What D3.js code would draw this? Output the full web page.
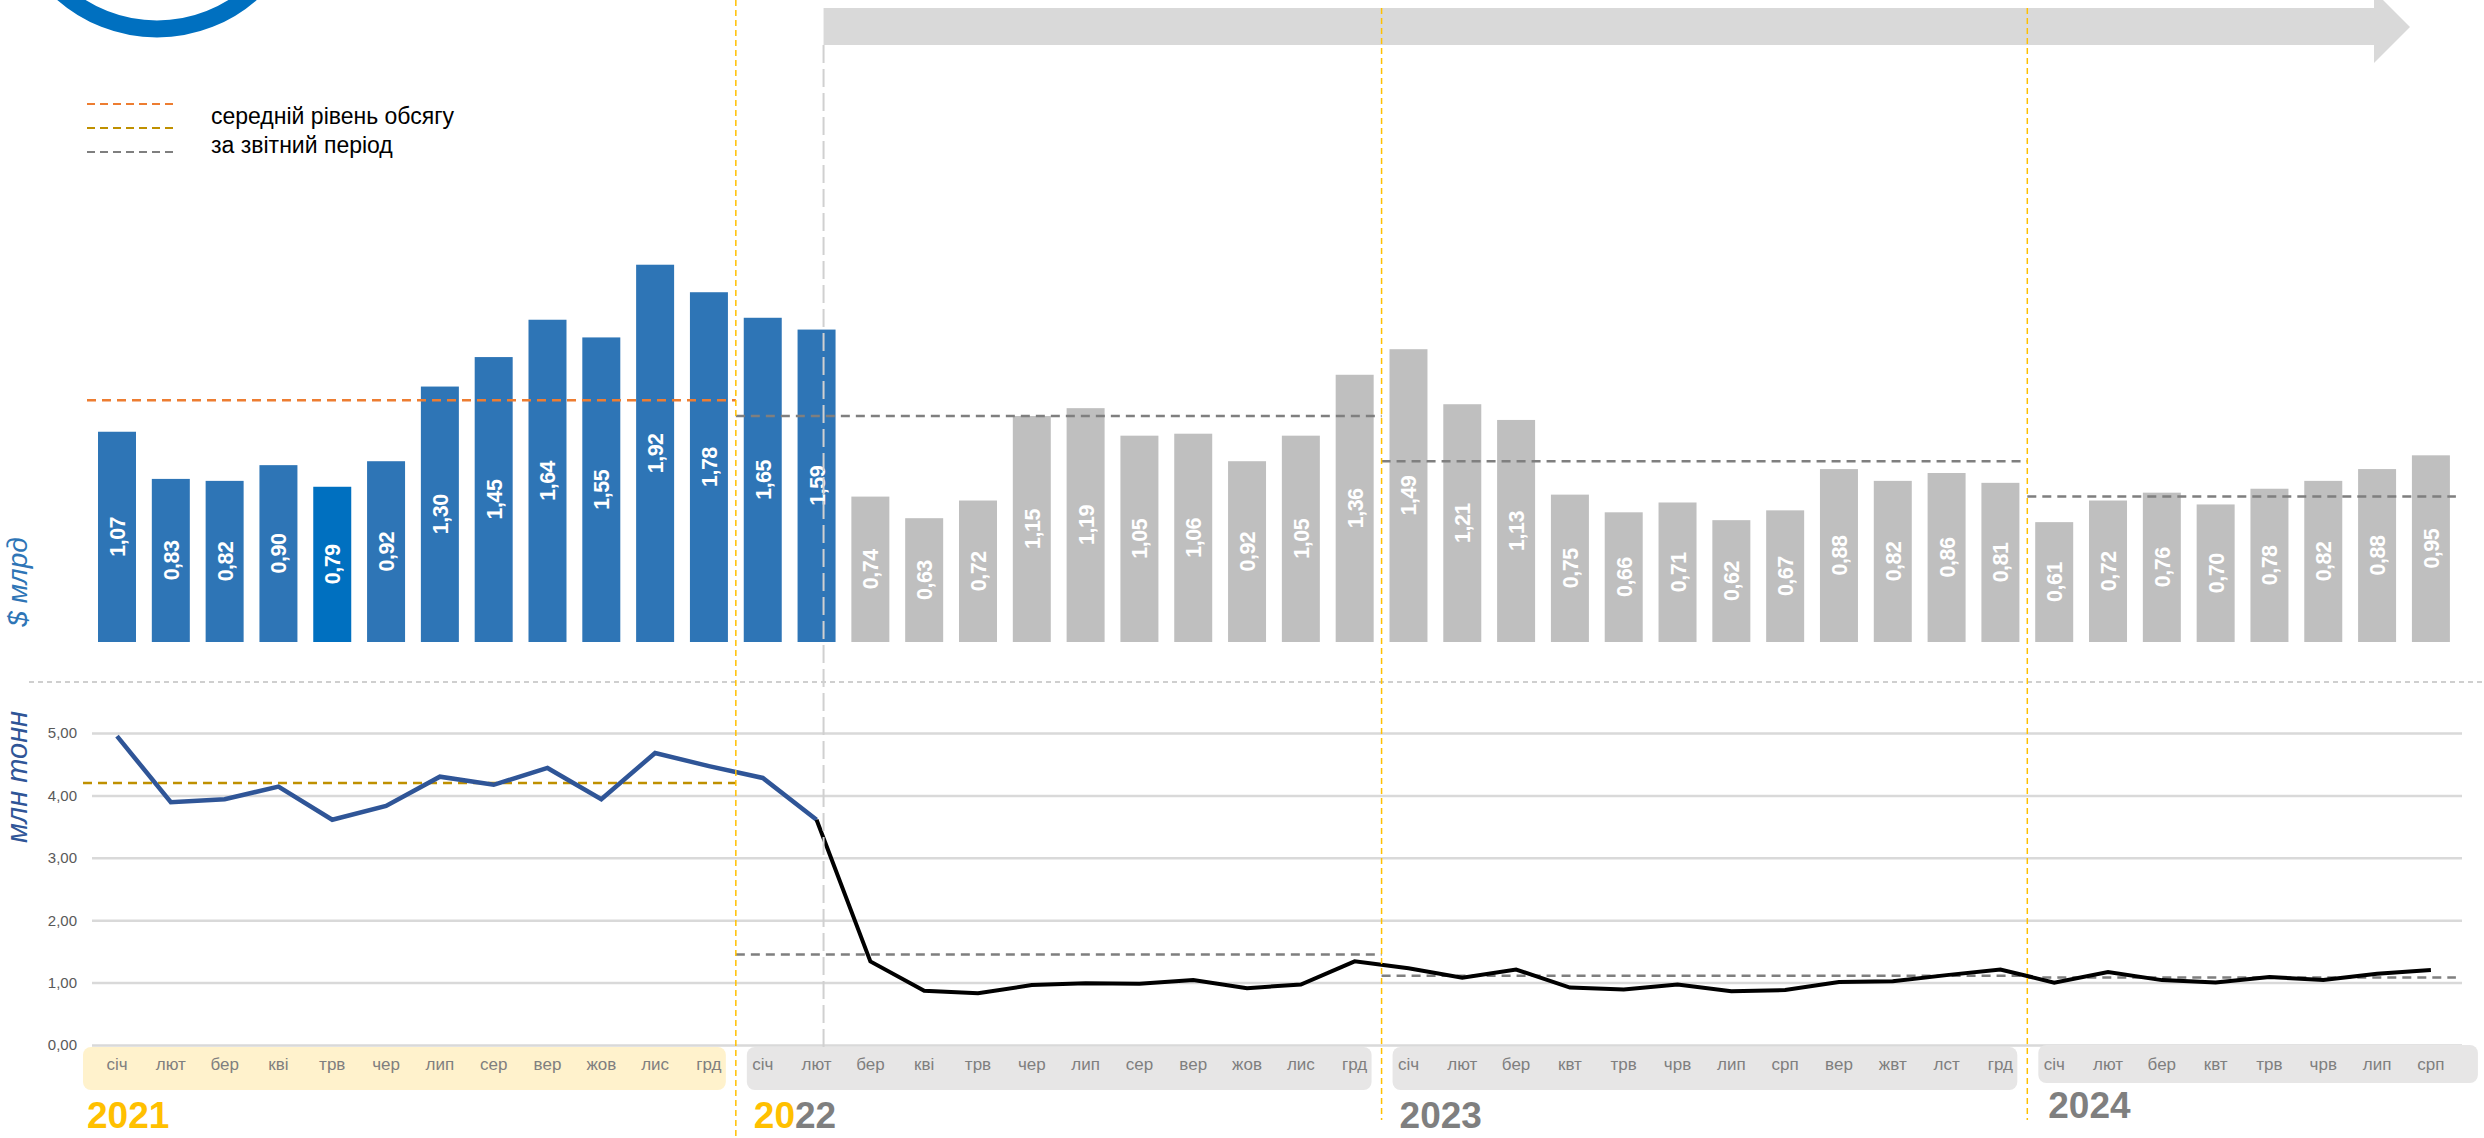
<!DOCTYPE html>
<html lang="uk">
<head>
<meta charset="UTF-8">
<title>Експорт: вартість і обсяг</title>
<script src="https://d3js.org/d3.v7.min.js"></script>
<style>
  html, body { margin: 0; padding: 0; background: #fff; }
  svg { display: block; font-family: "Liberation Sans", Arial, sans-serif; }
  .grid .domain, .months .domain { display: none; }
  .grid .tick line { stroke: #d9d9d9; stroke-width: 2.5; }
  .grid .tick text { fill: #595959; font-size: 15px; }
  .months .tick text { fill: #7f7f7f; font-size: 17px; }
</style>
</head>
<body>
<svg id="chart" width="2484" height="1138"></svg>
<script>
// --- дані ---
const years = ["2021", "2022", "2023", "2024"];
const months2021 = ["січ", "лют", "бер", "кві", "трв", "чер", "лип", "сер", "вер", "жов", "лис", "грд"];
const months2022 = ["січ", "лют", "бер", "кві", "трв", "чер", "лип", "сер", "вер", "жов", "лис", "грд"];
const months2023 = ["січ", "лют", "бер", "квт", "трв", "чрв", "лип", "срп", "вер", "жвт", "лст", "грд"];
const months2024 = ["січ", "лют", "бер", "квт", "трв", "чрв", "лип", "срп"];

// вартість, $ млрд
const value2021 = [1.07, 0.83, 0.82, 0.90, 0.79, 0.92, 1.30, 1.45, 1.64, 1.55, 1.92, 1.78];
const value2022 = [1.65, 1.59, 0.74, 0.63, 0.72, 1.15, 1.19, 1.05, 1.06, 0.92, 1.05, 1.36];
const value2023 = [1.49, 1.21, 1.13, 0.75, 0.66, 0.71, 0.62, 0.67, 0.88, 0.82, 0.86, 0.81];
const value2024 = [0.61, 0.72, 0.76, 0.70, 0.78, 0.82, 0.88, 0.95];

// обсяг, млн тонн
const volume2021 = [4.95, 3.89, 3.94, 4.14, 3.61, 3.83, 4.30, 4.17, 4.44, 3.94, 4.68, 4.47];
const volume2022 = [4.28, 3.61, 1.34, 0.87, 0.83, 0.96, 0.99, 0.98, 1.04, 0.91, 0.97, 1.34];
const volume2023 = [1.23, 1.08, 1.21, 0.92, 0.89, 0.97, 0.86, 0.88, 1.01, 1.02, 1.12, 1.21];
const volume2024 = [1.00, 1.17, 1.04, 1.00, 1.09, 1.04, 1.14, 1.20];

// середній рівень за звітний період
const valueAvg = [1.23, 1.15, 0.92, 0.74];
const volumeAvg = [4.20, 1.45, 1.11, 1.08];

const volumeTicks = [0, 1, 2, 3, 4, 5];
const legendLabels = ["середній рівень обсягу", "за звітний період"];

// --- допоміжне ---
const monthsByYear = [months2021, months2022, months2023, months2024];
const months = monthsByYear.flat();
const values = [value2021, value2022, value2023, value2024].flat();
const volumes = [volume2021, volume2022, volume2023, volume2024].flat();
const yearStart = [];
monthsByYear.reduce((acc, m) => { yearStart.push(acc); return acc + m.length; }, 0);
const warIndex = 13;   // лютий 2022
const mayIndex = 4;    // виділений стовпчик

const fmt = d3.formatLocale({ decimal: ",", thousands: " ", grouping: [3], currency: ["", ""] }).format(".2f");

const svg = d3.select("#chart");

const x = d3.scaleBand().domain(d3.range(months.length))
  .range([90.1, 2457.8]).paddingInner(0.294).paddingOuter(0.147);
const cx = i => x(i) + x.bandwidth() / 2;
const yBar = d3.scaleLinear().domain([0, 2]).range([642, 249]);
const yLine = d3.scaleLinear().domain([0, 5]).range([1045, 733]);

const boundary = i => (cx(yearStart[i] - 1) + cx(yearStart[i])) / 2;
const periodLeft = i => i === 0 ? cx(0) - 30 : boundary(i);
const periodRight = i => i === years.length - 1 ? cx(months.length - 1) + 25 : boundary(i + 1);

// --- логотип і стрілка ---
svg.append("circle").attr("cx", 157).attr("cy", -114).attr("r", 143)
  .attr("fill", "none").attr("stroke", "#0070c0").attr("stroke-width", 17);

const ax = cx(warIndex) + 7;
svg.append("path")
  .attr("d", `M${ax},8 L2374,8 L2374,-9 L2410,27 L2374,63 L2374,45 L${ax},45 Z`)
  .attr("fill", "#d9d9d9");

// --- легенда ---
const legendColors = ["#ed7d31", "#bf9000", "#7f7f7f"];
svg.append("g").selectAll("line").data(legendColors).join("line")
  .attr("x1", 87).attr("x2", 175)
  .attr("y1", (d, i) => 104 + i * 24).attr("y2", (d, i) => 104 + i * 24)
  .attr("stroke", d => d).attr("stroke-width", 2).attr("stroke-dasharray", "8,5");
svg.append("g").selectAll("text").data(legendLabels).join("text")
  .attr("x", 211).attr("y", (d, i) => 124 + i * 29)
  .attr("font-size", 23).attr("fill", "#000").text(d => d);

// --- стовпчики ---
svg.append("g").selectAll("rect").data(values).join("rect")
  .attr("x", (d, i) => x(i)).attr("width", x.bandwidth())
  .attr("y", d => yBar(d)).attr("height", d => yBar(0) - yBar(d))
  .attr("fill", (d, i) => i === mayIndex ? "#0070c0" : i <= warIndex ? "#2e75b6" : "#bfbfbf");

svg.append("g").selectAll("text").data(values).join("text")
  .attr("transform", (d, i) => `translate(${cx(i) + 1},${(yBar(d) + yBar(0)) / 2}) rotate(-90)`)
  .attr("text-anchor", "middle").attr("dominant-baseline", "central")
  .attr("font-size", 21.5).attr("font-weight", "bold").attr("letter-spacing", -0.5)
  .attr("fill", "#fff").text(d => fmt(d));

// середні рівні вартості
svg.append("g").selectAll("line").data(valueAvg).join("line")
  .attr("x1", (d, i) => periodLeft(i)).attr("x2", (d, i) => periodRight(i))
  .attr("y1", d => yBar(d)).attr("y2", d => yBar(d))
  .attr("stroke", (d, i) => i === 0 ? "#ed7d31" : "#7f7f7f")
  .attr("stroke-width", 2.5).attr("stroke-dasharray", "9,6");

// роздільник
svg.append("line").attr("x1", 29).attr("x2", 2484).attr("y1", 682).attr("y2", 682)
  .attr("stroke", "#c0c0c0").attr("stroke-width", 1.5).attr("stroke-dasharray", "5,4");

// --- графік обсягу ---
svg.append("g").attr("class", "grid").attr("transform", "translate(92,0)")
  .call(d3.axisLeft(yLine).tickValues(volumeTicks).tickSize(-(2462 - 92)).tickPadding(15).tickFormat(fmt));

// смуги місяців
const stripLeft = i => i === 0 ? cx(0) - 34 : boundary(i) + 11;
const stripRight = i => i === years.length - 1 ? cx(months.length - 1) + 47 : boundary(i + 1) - 10;
svg.append("g").selectAll("rect").data(years).join("rect")
  .attr("x", (d, i) => stripLeft(i)).attr("width", (d, i) => stripRight(i) - stripLeft(i))
  .attr("y", (d, i) => i === years.length - 1 ? 1045 : 1047)
  .attr("height", (d, i) => i === years.length - 1 ? 38 : 43)
  .attr("rx", 8).attr("fill", (d, i) => i === 0 ? "#fff2cc" : "#e7e6e6");

svg.append("g").attr("class", "months").attr("transform", "translate(0,1050)")
  .call(d3.axisBottom(x).tickSize(0).tickPadding(8).tickFormat(i => months[i]));

// середні рівні обсягу
svg.append("g").selectAll("line").data(volumeAvg).join("line")
  .attr("x1", (d, i) => i === 0 ? cx(0) - 34 : periodLeft(i)).attr("x2", (d, i) => periodRight(i))
  .attr("y1", d => yLine(d)).attr("y2", d => yLine(d))
  .attr("stroke", (d, i) => i === 0 ? "#bf9000" : "#7f7f7f")
  .attr("stroke-width", 2.5).attr("stroke-dasharray", "9,6");

const line = d3.line().x(d => cx(d.i)).y(d => yLine(d.v));
const pts = volumes.map((v, i) => ({ i, v }));
svg.append("path").datum(pts.slice(0, warIndex + 1)).attr("d", line)
  .attr("fill", "none").attr("stroke", "#2f5597").attr("stroke-width", 4.5);
svg.append("path").datum(pts.slice(warIndex)).attr("d", line)
  .attr("fill", "none").attr("stroke", "#000").attr("stroke-width", 4);

// --- вертикальні лінії ---
svg.append("g").selectAll("line").data(years.slice(1)).join("line")
  .attr("x1", (d, i) => boundary(i + 1)).attr("x2", (d, i) => boundary(i + 1))
  .attr("y1", (d, i) => i === 0 ? 0 : 8).attr("y2", (d, i) => i === 0 ? 1138 : 1120)
  .attr("stroke", "#ffc000").attr("stroke-width", 1.5).attr("stroke-dasharray", "6,4");
svg.append("line").attr("x1", ax).attr("x2", ax).attr("y1", 45).attr("y2", 1053)
  .attr("stroke", "#d0d0d0").attr("stroke-width", 2).attr("stroke-dasharray", "18,6");

// --- роки ---
const yearText = svg.append("g").selectAll("text").data(years).join("text")
  .attr("x", (d, i) => stripLeft(i) + (i === 0 ? 4 : i === 3 ? 10 : 7))
  .attr("y", (d, i) => i === years.length - 1 ? 1118 : 1128)
  .attr("font-size", 37).attr("font-weight", "bold")
  .attr("fill", (d, i) => i === 0 ? "#ffc000" : "#7f7f7f");
yearText.each(function (d, i) {
  const t = d3.select(this);
  if (i === 1) {
    t.append("tspan").attr("fill", "#ffc000").text(d.slice(0, 2));
    t.append("tspan").text(d.slice(2));
  } else t.text(d);
});

// --- підписи осей ---
svg.append("text").attr("transform", "translate(27,582) rotate(-90)")
  .attr("text-anchor", "middle").attr("font-size", 28).attr("font-style", "italic")
  .attr("fill", "#2e75b6").text("$ млрд");
svg.append("text").attr("transform", "translate(27,777) rotate(-90)")
  .attr("text-anchor", "middle").attr("font-size", 29).attr("font-style", "italic")
  .attr("fill", "#2f5597").text("млн тонн");
</script>
</body>
</html>
